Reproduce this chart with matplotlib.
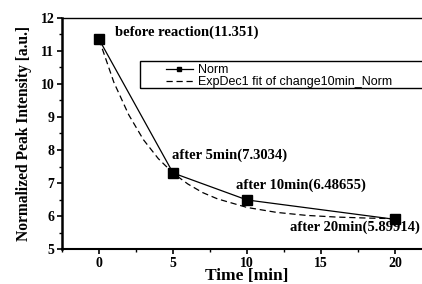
import matplotlib
matplotlib.use("Agg")
import matplotlib.pyplot as plt
from matplotlib.patches import Rectangle
from matplotlib.ticker import MultipleLocator

# Datos medidos (minutos, intensidad normalizada)
time_min = [0, 5, 10, 20]
norm_values = [11.351, 7.3034, 6.48655, 5.89914]
point_labels = ["before reaction(11.351)", "after 5min(7.3034)",
                "after 10min(6.48655)", "after 20min(5.89914)"]

# Curva del ajuste ExpDec1
fit_time = [0, 1, 2, 3, 4, 5, 6, 7, 8, 10, 12, 14, 16, 18, 20]
fit_values = [11.35, 10.05, 9.07, 8.31, 7.74, 7.30, 6.97, 6.71, 6.52,
              6.26, 6.11, 6.02, 5.97, 5.94, 5.92]

# Posiciones de las etiquetas de texto
label_x = [1.08, 4.93, 9.26, 12.9]
label_y = [11.58, 7.85, 6.94, 5.67]

serif = "Liberation Serif"
sans = "Liberation Sans"

fig = plt.figure(figsize=(4.22, 2.84), dpi=100)
ax = fig.add_axes([0.147, 0.123, 0.877, 0.814])

ax.plot(time_min, norm_values, color="black", lw=0.9, marker="s", ms=7,
        label="Norm")
ax.plot(fit_time, fit_values, color="black", lw=0.9, ls=(0, (5, 3)),
        label="ExpDec1 fit of change10min_Norm")

for lx, ly, txt in zip(label_x, label_y, point_labels):
    ax.text(lx, ly, txt, family=serif, weight="bold", fontsize=10.5,
            va="center", ha="left")

ax.set_xlim(-2.5, 22.5)
ax.set_ylim(5, 12)
ax.xaxis.set_major_locator(MultipleLocator(5))
ax.xaxis.set_minor_locator(MultipleLocator(2.5))
ax.yaxis.set_major_locator(MultipleLocator(1))
ax.yaxis.set_minor_locator(MultipleLocator(0.5))
ax.tick_params(which="major", direction="out", length=3.5, width=1.2, pad=2)
ax.tick_params(which="minor", direction="out", length=2.2, width=1.0)
for lab in ax.get_xticklabels() + ax.get_yticklabels():
    lab.set_family(serif)
    lab.set_weight("bold")
    lab.set_fontsize(10)

ax.spines["left"].set_linewidth(1.8)
ax.spines["bottom"].set_linewidth(1.5)
ax.spines["top"].set_linewidth(1.0)

ax.set_xlabel("Time [min]", family=serif, weight="bold", fontsize=12.5,
              labelpad=-1)
ax.set_ylabel("Normalized Peak Intensity [a.u.]", family=serif,
              weight="bold", fontsize=11.2, labelpad=6)

# Marco de la leyenda (se sale por la derecha como en el original)
ax.add_patch(Rectangle((0.211, 0.697), 0.9, 0.117, transform=ax.transAxes,
                       fill=False, edgecolor="black", lw=1.0,
                       clip_on=False, zorder=5))
ax.legend(loc="upper left", bbox_to_anchor=(0.28, 0.80), frameon=False,
          prop={"family": sans, "size": 9}, handlelength=2.2,
          borderpad=0, labelspacing=0.0, handletextpad=0.35,
          markerscale=0.5, borderaxespad=0)

fig.savefig("out.png", dpi=100)
